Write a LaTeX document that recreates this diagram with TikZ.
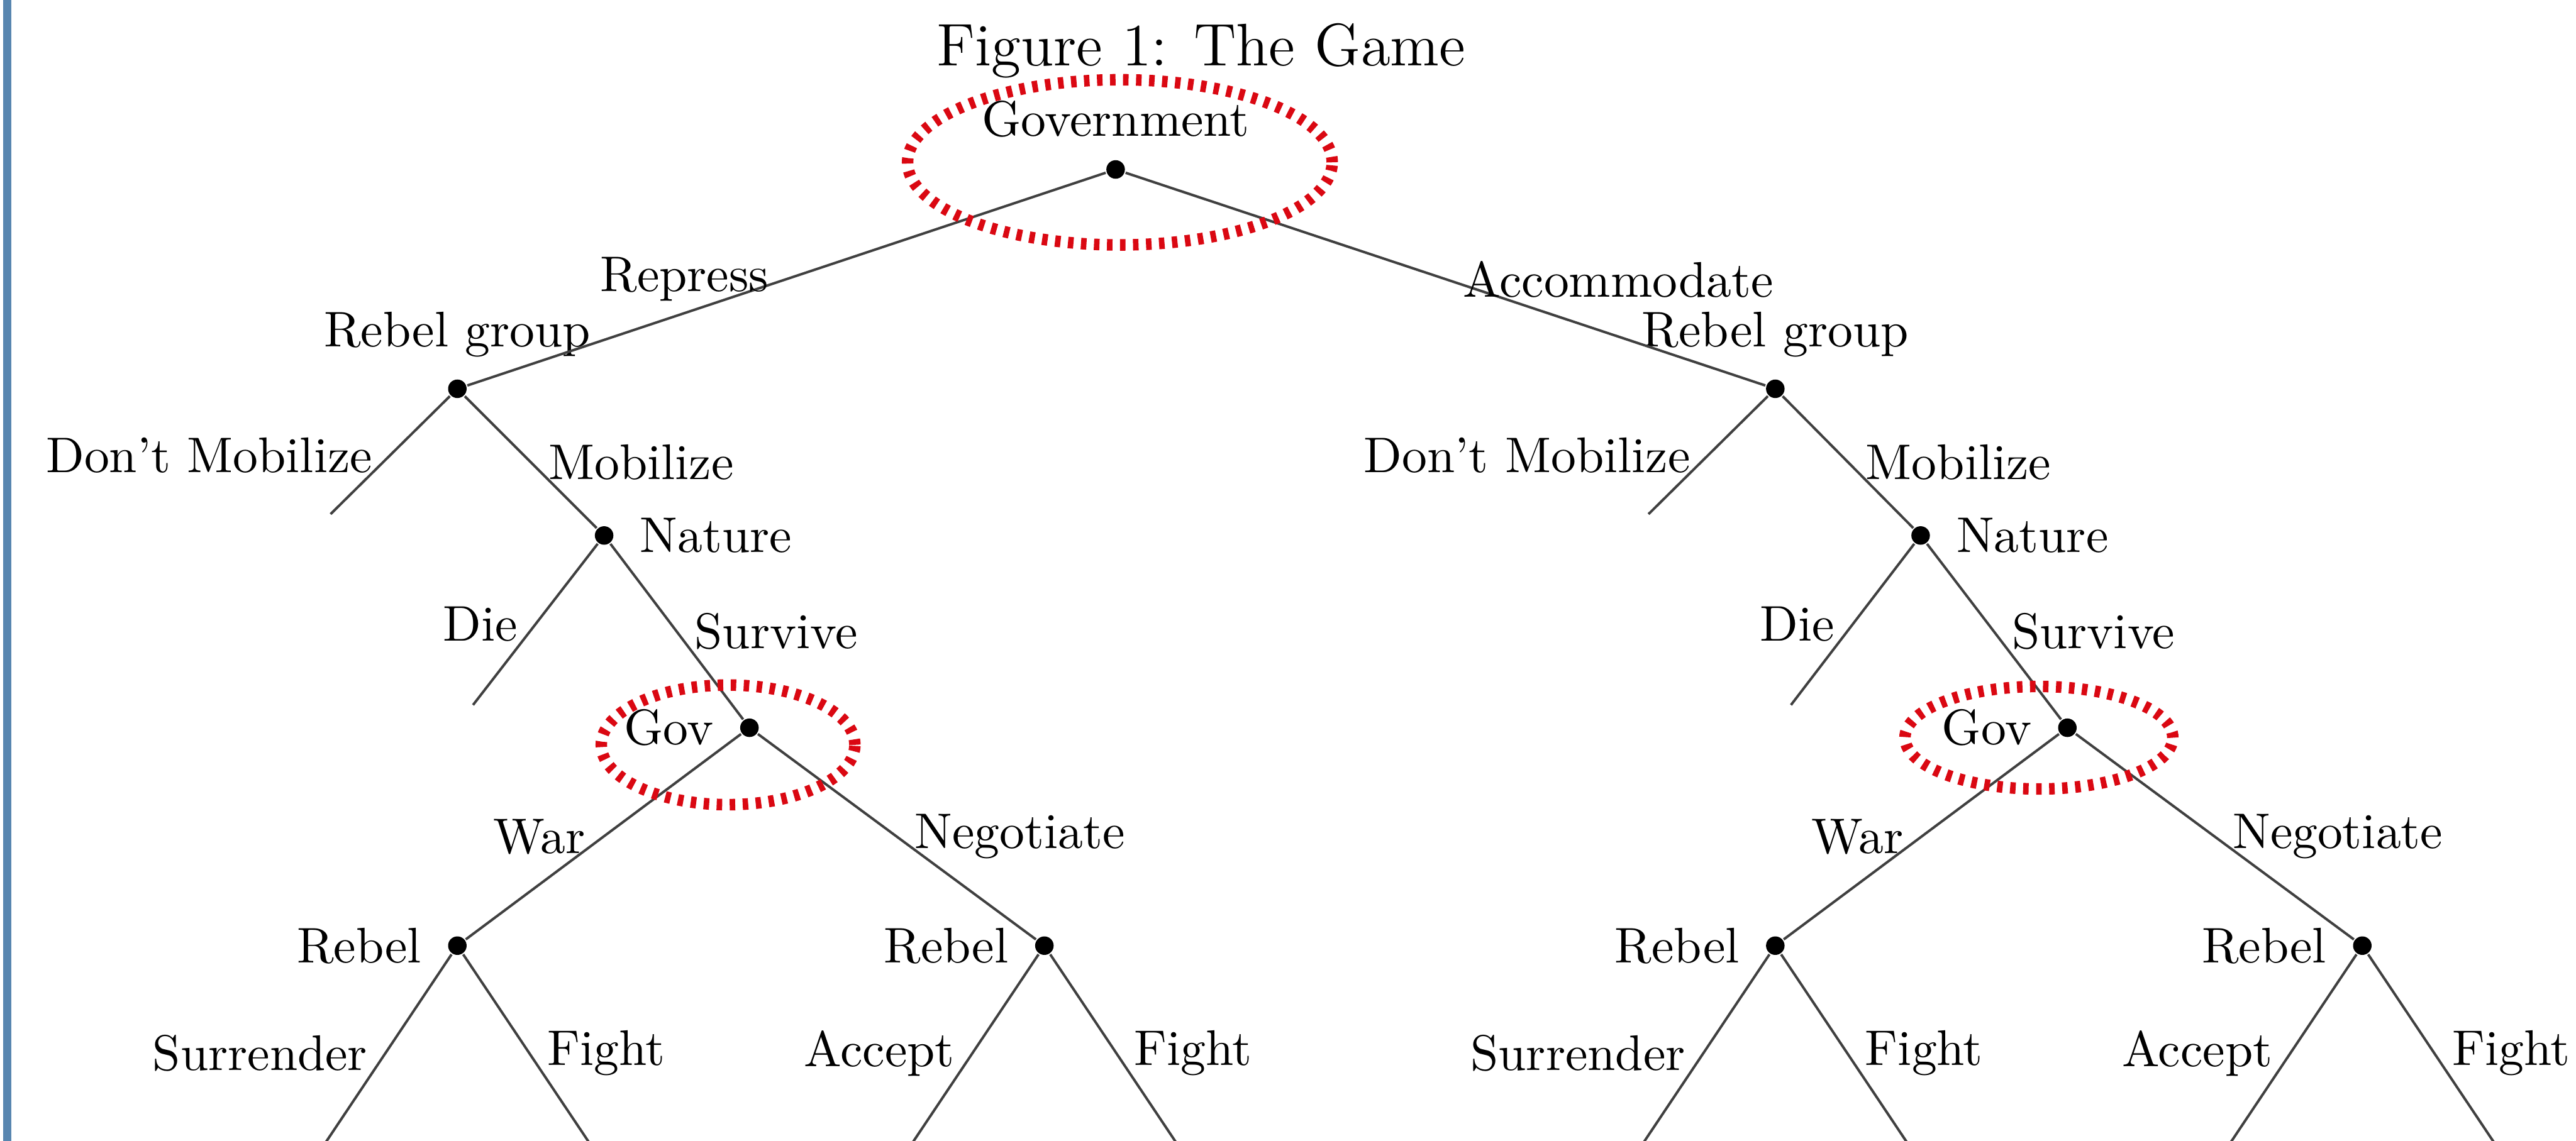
\documentclass[tikz,border=0pt]{standalone}
\usepackage{tikz}
\usepackage{xcolor}

\definecolor{barblue}{RGB}{88,134,176}
\definecolor{ovalred}{RGB}{218,8,18}

\tikzset{
    dot/.style={circle, fill=black, inner sep=0pt, minimum size=3.7pt},
    oval/.style={draw=ovalred, line width=2.3pt, dash pattern=on 1.1pt off 1.5pt}
}

\begin{document}
\begin{tikzpicture}[line width=0.5pt, draw=black!75, label distance=1.5pt]
        \useasboundingbox (0,0) rectangle (18.08,-8.01);
        \clip (0,0) rectangle (18.08,-8.01);
        \fill [barblue] (0.02,0) rectangle (0.08,-8.01);

        \node [anchor=base] (title) at (8.43,-0.46) {\large Figure 1: The Game};

        \node [dot, label={[label distance=0.7pt]above:Government}] (gov) at (7.83,-1.19) {};

        \node [dot, label={[label distance=0.7pt]above:Rebel group}] (rg) at (3.21,-2.73) {};
        \coordinate (dm) at (2.32,-3.61);
        \node [dot, label=right:Nature] (nat) at (4.24,-3.76) {};
        \coordinate (die) at (3.32,-4.95);
        \node [dot, label=left:Gov] (gv) at (5.26,-5.11) {};
        \node [dot, label=left:Rebel] (rw) at (3.21,-6.64) {};
        \node [dot, label=left:Rebel] (rn) at (7.33,-6.64) {};
        \coordinate (sur) at (2.24,-8.09);
        \coordinate (fw) at (4.18,-8.09);
        \coordinate (acc) at (6.36,-8.09);
        \coordinate (fn) at (8.30,-8.09);

        \node [dot, label={[label distance=0.7pt]above:Rebel group}] (rgb) at (12.46,-2.73) {};
        \coordinate (dmb) at (11.57,-3.61);
        \node [dot, label=right:Nature] (natb) at (13.48,-3.76) {};
        \coordinate (dieb) at (12.57,-4.95);
        \node [dot, label=left:Gov] (gvb) at (14.51,-5.11) {};
        \node [dot, label=left:Rebel] (rwb) at (12.46,-6.64) {};
        \node [dot, label=left:Rebel] (rnb) at (16.58,-6.64) {};
        \coordinate (surb) at (11.49,-8.09);
        \coordinate (fwb) at (13.43,-8.09);
        \coordinate (accb) at (15.61,-8.09);
        \coordinate (fnb) at (17.55,-8.09);

        \draw (gov) -- node [midway, left] {Repress} (rg);
        \draw (gov) -- node [midway, right] {Accommodate} (rgb);

        \draw (rg) -- node [midway, left] {Don't Mobilize} (dm);
        \draw (rg) -- node [midway, right] {Mobilize} (nat);
        \draw (nat) -- node [midway, left] {Die} (die);
        \draw (nat) -- node [midway, right] {Survive} (gv);
        \draw (gv) -- node [midway, left] {War} (rw);
        \draw (gv) -- node [midway, right] {Negotiate} (rn);
        \draw (rw) -- node [midway, left] {Surrender} (sur);
        \draw (rw) -- node [midway, right] {Fight} (fw);
        \draw (rn) -- node [midway, left] {Accept} (acc);
        \draw (rn) -- node [midway, right] {Fight} (fn);

        \draw (rgb) -- node [midway, left] {Don't Mobilize} (dmb);
        \draw (rgb) -- node [midway, right] {Mobilize} (natb);
        \draw (natb) -- node [midway, left] {Die} (dieb);
        \draw (natb) -- node [midway, right] {Survive} (gvb);
        \draw (gvb) -- node [midway, left] {War} (rwb);
        \draw (gvb) -- node [midway, right] {Negotiate} (rnb);
        \draw (rwb) -- node [midway, left] {Surrender} (surb);
        \draw (rwb) -- node [midway, right] {Fight} (fwb);
        \draw (rnb) -- node [midway, left] {Accept} (accb);
        \draw (rnb) -- node [midway, right] {Fight} (fnb);

        \draw [oval] (7.86,-1.14) ellipse [x radius=1.49, y radius=0.58];
        \draw [oval] (5.11,-5.23) ellipse [x radius=0.89, y radius=0.42];
        \draw [oval] (14.31,-5.18) ellipse [x radius=0.94, y radius=0.36];
    \end{tikzpicture}
\end{document}
